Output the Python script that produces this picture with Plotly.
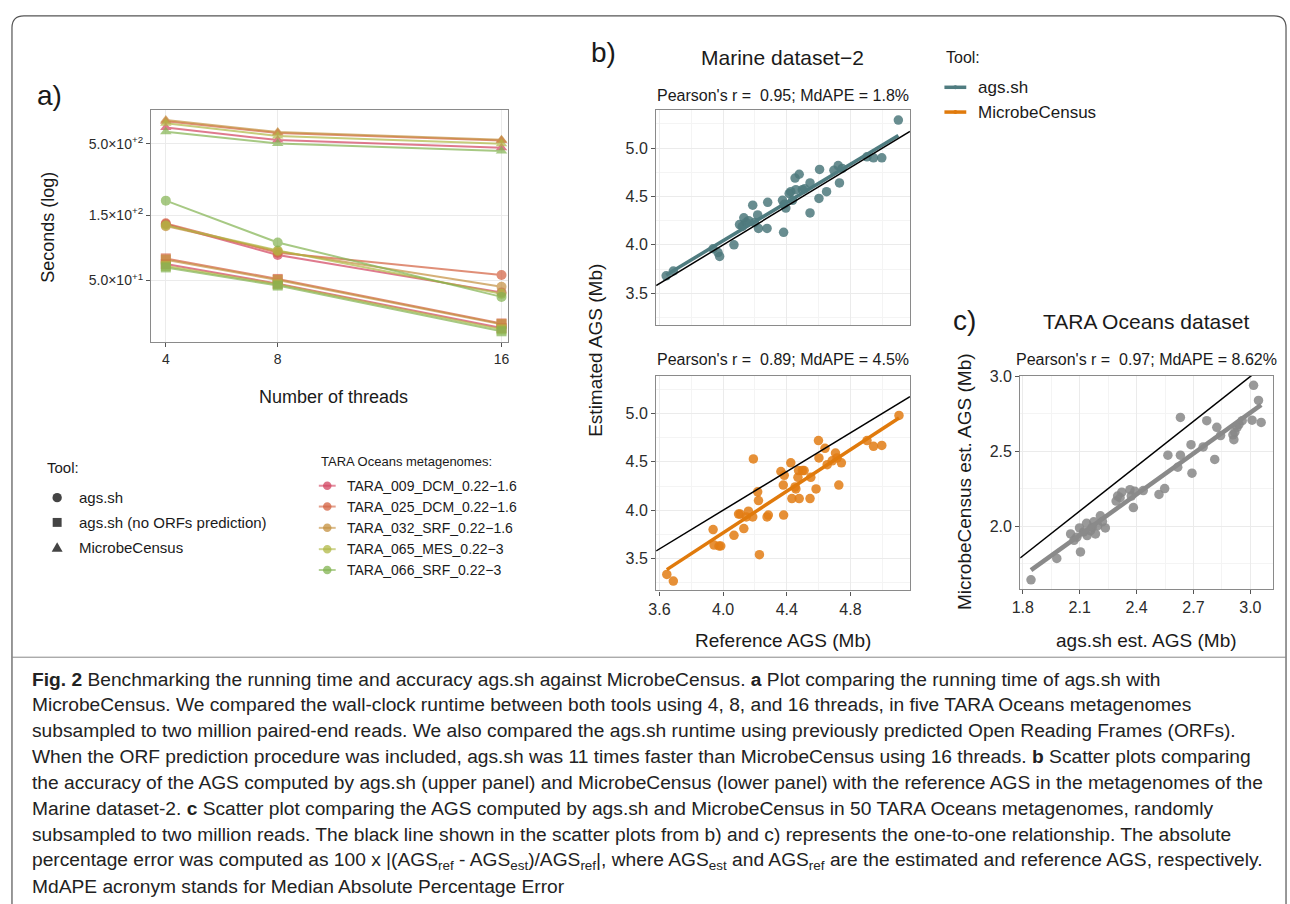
import numpy as np
import plotly.graph_objects as go

W, H = 1290, 904
FONT = "Liberation Sans"
CAP_FONT = "Liberation Sans"

# ---------------- Panel a data ----------------
threads = [4, 8, 16]
samples = ["TARA_009_DCM_0.22−1.6", "TARA_025_DCM_0.22−1.6", "TARA_032_SRF_0.22−1.6",
           "TARA_065_MES_0.22−3", "TARA_066_SRF_0.22−3"]
tools = ["ags.sh", "ags.sh (no ORFs prediction)", "MicrobeCensus"]
secs_ags = [[129, 77, 41], [131, 80, 55], [125, 82, 45], [127, 83, 40], [192, 95, 38]]
secs_noorf = [[66, 47.5, 22.5], [72.6, 51.4, 24.3], [71, 50.5, 24], [64, 47, 22], [62.4, 46, 21.3]]
secs_mc = [[656, 532, 468], [730, 600, 528], [745, 610, 535], [705, 570, 500], [611, 502, 443]]
a_ytickvals = [50, 150, 500]
a_yticktext = ["5.0×10<sup>+1</sup>", "1.5×10<sup>+2</sup>", "5.0×10<sup>+2</sup>"]

# ---------------- Panel b data (Marine dataset-2) ----------------
ref_top = [3.642, 3.687, 3.937, 3.968, 3.978, 4.068, 4.103, 4.130, 4.145, 4.186, 4.197, 4.217,
           4.222, 4.276, 4.280, 4.373, 4.380, 4.394, 4.415, 4.436, 4.452, 4.478, 4.457, 4.498,
           4.546, 4.546, 4.602, 4.606, 4.650, 4.696, 4.723, 4.731, 4.748, 4.904, 4.945, 4.997,
           5.101, 4.384, 4.425, 4.512, 4.120, 4.160]
est_ags = [3.68, 3.73, 3.96, 3.92, 3.88, 4.00, 4.21, 4.28, 4.23, 4.41, 4.23, 4.31,
           4.17, 4.17, 4.44, 4.46, 4.13, 4.38, 4.53, 4.46, 4.69, 4.73, 4.57, 4.57,
           4.64, 4.33, 4.48, 4.78, 4.55, 4.77, 4.82, 4.64, 4.79, 4.91, 4.90, 4.90,
           5.29, 4.42, 4.55, 4.58, 4.19, 4.25]
ref_bot = [3.646, 3.687, 3.937, 3.943, 3.974, 3.985, 4.068, 4.097, 4.107, 4.130, 4.145, 4.159,
           4.186, 4.190, 4.217, 4.222, 4.228, 4.276, 4.284, 4.363, 4.384, 4.378, 4.380, 4.425,
           4.432, 4.452, 4.457, 4.474, 4.470, 4.478, 4.498, 4.509, 4.546, 4.551, 4.584, 4.599,
           4.602, 4.640, 4.654, 4.706, 4.716, 4.727, 4.743, 4.904, 4.945, 4.997, 5.105, 4.685]
est_mc = [3.336, 3.268, 3.80, 3.64, 3.63, 3.63, 3.74, 3.96, 3.96, 3.81, 3.93, 3.99,
          3.93, 4.53, 4.19, 4.10, 3.54, 3.93, 3.95, 4.40, 4.36, 4.26, 3.95, 4.49,
          4.12, 4.24, 4.22, 4.41, 4.34, 4.12, 4.41, 4.41, 4.12, 4.34, 4.22, 4.72,
          4.54, 4.64, 4.47, 4.59, 4.54, 4.26, 4.49, 4.72, 4.66, 4.67, 4.98, 4.51]
b_ticks = [3.5, 4.0, 4.5, 5.0]
b_xticks = [3.6, 4.0, 4.4, 4.8]

# ---------------- Panel c data (TARA Oceans) ----------------
ags_c = [1.843, 1.979, 2.052, 2.070, 2.099, 2.104, 2.139, 2.157, 2.174, 2.183, 2.195, 2.209,
         2.235, 2.292, 2.313, 2.322, 2.365, 2.383, 2.391, 2.435, 2.518, 2.548, 2.565, 2.617,
         2.631, 2.631, 2.687, 2.692, 2.751, 2.770, 2.812, 2.823, 2.843, 2.908, 2.913, 2.930,
         2.957, 3.009, 3.017, 3.043, 3.057, 2.918, 2.136, 2.165, 2.300, 2.372, 2.120, 2.220,
         2.085, 2.940]
mc_c = [1.640, 1.783, 1.947, 1.904, 1.987, 1.827, 1.936, 1.969, 2.028, 1.947, 2.002, 2.068,
        1.987, 2.167, 2.189, 2.226, 2.243, 2.123, 2.232, 2.237, 2.211, 2.250, 2.474, 2.393,
        2.474, 2.726, 2.544, 2.353, 2.529, 2.704, 2.445, 2.660, 2.605, 2.610, 2.577, 2.660,
        2.704, 2.708, 2.941, 2.840, 2.693, 2.627, 2.018, 1.990, 2.200, 2.200, 1.960, 2.030,
        1.925, 2.680]
c_xticks = [1.8, 2.1, 2.4, 2.7, 3.0]
c_yticks = [2.0, 2.5, 3.0]

# axis ranges
A_X = [3.47, 16.25]
A_Y = [1.25, 2.945]
B_X = [3.579, 5.174]
B_Y = [3.17, 5.39]
C_X = [1.786, 3.12]
C_Y = [1.58, 3.005]


def px(x):
    return x / W


def py(y):
    return 1 - y / H


fig = go.Figure()

# ---------- panel a traces ----------
sample_colors = ["#D2435F", "#D3603F", "#C4903F", "#B0B845", "#82B350"]
for vals, sym in [(secs_ags, "circle"), (secs_noorf, "square"), (secs_mc, "triangle-up")]:
    for s, c, v in zip(samples, sample_colors, vals):
        fig.add_trace(go.Scatter(
            x=threads, y=v, mode="lines+markers", xaxis="x", yaxis="y", name=s,
            line=dict(color=c, width=2), opacity=0.7,
            marker=dict(symbol=sym, size=10, color=c), showlegend=False))

# ---------- panel b traces ----------
TEAL = "rgba(78,121,124,0.85)"
ORANGE = "rgba(226,125,20,0.85)"


def fit(xv, yv):
    k, b = np.polyfit(xv, yv, 1)
    xs = np.array([min(xv), max(xv)])
    return xs, k * xs + b


fig.add_trace(go.Scatter(x=ref_top, y=est_ags, mode="markers", xaxis="x2", yaxis="y2",
                         marker=dict(size=9.5, color=TEAL), showlegend=False))
fx, fy = fit(ref_top, est_ags)
fig.add_trace(go.Scatter(x=fx, y=fy, mode="lines", xaxis="x2", yaxis="y2",
                         line=dict(color="#4F7C80", width=3.5), showlegend=False))
fig.add_trace(go.Scatter(x=B_X, y=B_X, mode="lines", xaxis="x2", yaxis="y2",
                         line=dict(color="black", width=1.5), showlegend=False))

fig.add_trace(go.Scatter(x=ref_bot, y=est_mc, mode="markers", xaxis="x3", yaxis="y3",
                         marker=dict(size=9.5, color=ORANGE), showlegend=False))
fx, fy = fit(ref_bot, est_mc)
fig.add_trace(go.Scatter(x=fx, y=fy, mode="lines", xaxis="x3", yaxis="y3",
                         line=dict(color="#E07A0C", width=3.5), showlegend=False))
fig.add_trace(go.Scatter(x=B_X, y=B_X, mode="lines", xaxis="x3", yaxis="y3",
                         line=dict(color="black", width=1.5), showlegend=False))

# ---------- panel c traces ----------
fig.add_trace(go.Scatter(x=ags_c, y=mc_c, mode="markers", xaxis="x4", yaxis="y4",
                         marker=dict(size=9.5, color="rgba(135,135,135,0.85)"), showlegend=False))
fx, fy = fit(ags_c, mc_c)
fig.add_trace(go.Scatter(x=fx, y=fy, mode="lines", xaxis="x4", yaxis="y4",
                         line=dict(color="#8A8A8A", width=4.5), showlegend=False))
fig.add_trace(go.Scatter(x=C_X, y=C_X, mode="lines", xaxis="x4", yaxis="y4",
                         line=dict(color="black", width=1.5), showlegend=False))

# ---------- axes ----------
common = dict(showline=True, mirror=True, linecolor="#8a8a8a", linewidth=1.2,
              showgrid=True, gridcolor="#EBEBEB", gridwidth=1.2, zeroline=False,
              ticks="outside", ticklen=4, tickwidth=1.2, tickcolor="#555",
              tickfont=dict(family=FONT, size=16, color="#2b2b2b"))
minor_style = dict(showgrid=True, gridcolor="#F4F4F4", gridwidth=0.8)

a_tick = dict(common, tickfont=dict(family=FONT, size=14, color="#2b2b2b"))
fig.update_layout(
    xaxis=dict(a_tick, domain=[px(144), px(504)], range=A_X, tickmode="array",
               tickvals=threads, ticktext=[str(t) for t in threads], anchor="y"),
    yaxis=dict(a_tick, domain=[py(337), py(103)], type="log", range=A_Y, tickmode="array",
               tickvals=a_ytickvals, ticktext=a_yticktext, anchor="x"),
    xaxis2=dict(common, domain=[px(652.7), px(908.3)], range=B_X, tickmode="array",
                tickvals=b_xticks, showticklabels=False, ticks="", anchor="y2",
                minor=dict(minor_style, tickmode="array", tickvals=[3.8, 4.2, 4.6, 5.0])),
    yaxis2=dict(common, domain=[py(320), py(103.3)], range=B_Y, tickmode="array",
                tickvals=b_ticks, ticktext=[f"{v:.1f}" for v in b_ticks], anchor="x2",
                minor=dict(minor_style, tickmode="array", tickvals=[3.25, 3.75, 4.25, 4.75, 5.25])),
    xaxis3=dict(common, domain=[px(652.7), px(908.3)], range=B_X, tickmode="array",
                tickvals=b_xticks, ticktext=[f"{v:.1f}" for v in b_xticks], anchor="y3",
                minor=dict(minor_style, tickmode="array", tickvals=[3.8, 4.2, 4.6, 5.0])),
    yaxis3=dict(common, domain=[py(587.7), py(371)], range=B_Y, tickmode="array",
                tickvals=b_ticks, ticktext=[f"{v:.1f}" for v in b_ticks], anchor="x3",
                minor=dict(minor_style, tickmode="array", tickvals=[3.25, 3.75, 4.25, 4.75, 5.25])),
    xaxis4=dict(common, domain=[px(1019.3), px(1274)], range=C_X, tickmode="array",
                tickvals=c_xticks, ticktext=[f"{v:.1f}" for v in c_xticks], anchor="y4",
                minor=dict(minor_style, tickmode="array", tickvals=[1.95, 2.25, 2.55, 2.85])),
    yaxis4=dict(common, domain=[py(586), py(371)], range=C_Y, tickmode="array",
                tickvals=c_yticks, ticktext=[f"{v:.1f}" for v in c_yticks], anchor="x4",
                minor=dict(minor_style, tickmode="array", tickvals=[1.75, 2.25, 2.75])),
)

# ---------- annotations ----------
ann = []


def text(x, y, s, size, xanchor="center", yanchor="middle", angle=0, color="#1a1a1a", family=FONT):
    ann.append(dict(x=px(x), y=py(y), xref="paper", yref="paper", text=s, showarrow=False,
                    xanchor=xanchor, yanchor=yanchor, textangle=angle,
                    font=dict(family=family, size=size, color=color)))


# panel labels
text(42, 88, "a)", 28)
text(600, 45, "b)", 28)
text(963, 315, "c)", 28)

# panel a titles
text(328, 392, "Number of threads", 18)
text(40, 221, "Seconds (log)", 18, angle=-90)

# panel b titles
text(780, 50, "Marine dataset−2", 21)
text(780, 88, "Pearson's r =  0.95; MdAPE = 1.8%", 16)
text(780, 355, "Pearson's r =  0.89; MdAPE = 4.5%", 16)
text(592, 345, "Estimated AGS (Mb)", 19, angle=-90)
text(780, 638, "Reference AGS (Mb)", 19)

# panel c titles
text(1146, 316, "TARA Oceans dataset", 21)
text(1147, 355, "Pearson's r =  0.97; MdAPE = 8.62%", 16)
text(963, 478, "MicrobeCensus est. AGS (Mb)", 19, angle=-90)
text(1146, 638, "ags.sh est. AGS (Mb)", 19)

# panel a legends
text(37, 464, "Tool:", 15, xanchor="left")
tool_legend_y = [494, 519, 544]
for t, yy in zip(tools, tool_legend_y):
    text(69, yy, t, 15, xanchor="left")
text(313, 458, "TARA Oceans metagenomes:", 13, xanchor="left")
tara_legend_y = [482, 503, 524.5, 546, 567]
for s, yy in zip(samples, tara_legend_y):
    text(339, yy, s, 14, xanchor="left")

# panel b legend
text(943, 50, "Tool:", 16, xanchor="left")
text(975, 80, "ags.sh", 17, xanchor="left")
text(975, 105, "MicrobeCensus", 17, xanchor="left")

# caption
caption = [
    "<b>Fig. 2</b> Benchmarking the running time and accuracy ags.sh against MicrobeCensus. <b>a</b> Plot comparing the running time of ags.sh with",
    "MicrobeCensus. We compared the wall-clock runtime between both tools using 4, 8, and 16 threads, in five TARA Oceans metagenomes",
    "subsampled to two million paired-end reads. We also compared the ags.sh runtime using previously predicted Open Reading Frames (ORFs).",
    "When the ORF prediction procedure was included, ags.sh was 11 times faster than MicrobeCensus using 16 threads. <b>b</b> Scatter plots comparing",
    "the accuracy of the AGS computed by ags.sh (upper panel) and MicrobeCensus (lower panel) with the reference AGS in the metagenomes of the",
    "Marine dataset-2. <b>c</b> Scatter plot comparing the AGS computed by ags.sh and MicrobeCensus in 50 TARA Oceans metagenomes, randomly",
    "subsampled to two million reads. The black line shown in the scatter plots from b) and c) represents the one-to-one relationship. The absolute",
    "percentage error was computed as 100 x |(AGS<sub>ref</sub> - AGS<sub>est</sub>)/AGS<sub>ref</sub>|, where AGS<sub>est</sub> and AGS<sub>ref</sub> are the estimated and reference AGS, respectively.",
    "MdAPE acronym stands for Median Absolute Percentage Error",
]
for i, line in enumerate(caption):
    text(22, 677 + 26.2 * i, line, 19.2, xanchor="left", color="#222", family=CAP_FONT)

# ---------- shapes (frame, legend keys) ----------
shapes = []
r = 12
shapes.append(dict(type="path", xref="paper", yref="paper",
                   path=f"M {px(4)},{py(910)} L {px(4)},{py(8 + r)} Q {px(4)},{py(8)} {px(4 + r)},{py(8)} "
                        f"L {px(1287 - r)},{py(8)} Q {px(1287)},{py(8)} {px(1287)},{py(8 + r)} L {px(1287)},{py(910)}",
                   line=dict(color="#555", width=1.2)))
shapes.append(dict(type="line", xref="paper", yref="paper", x0=px(4), x1=px(1287), y0=py(655), y1=py(655),
                   line=dict(color="#888", width=1)))

cx, rr = 49.5, 4.7
shapes.append(dict(type="circle", xref="paper", yref="paper", x0=px(cx - rr), x1=px(cx + rr),
                   y0=py(494 + rr), y1=py(494 - rr), fillcolor="#444", line=dict(width=0)))
shapes.append(dict(type="rect", xref="paper", yref="paper", x0=px(cx - 4.5), x1=px(cx + 4.5),
                   y0=py(519 + 4.5), y1=py(519 - 4.5), fillcolor="#444", line=dict(width=0)))
shapes.append(dict(type="path", xref="paper", yref="paper",
                   path=f"M {px(cx - 5.5)},{py(548.5)} L {px(cx + 5.5)},{py(548.5)} L {px(cx)},{py(539)} Z",
                   fillcolor="#444", line=dict(width=0)))
for c, yy in zip(sample_colors, tara_legend_y):
    shapes.append(dict(type="line", xref="paper", yref="paper", x0=px(313), x1=px(330), y0=py(yy), y1=py(yy),
                       line=dict(color=c, width=2), opacity=0.6))
    shapes.append(dict(type="circle", xref="paper", yref="paper", x0=px(321.5 - 4.3), x1=px(321.5 + 4.3),
                       y0=py(yy + 4.3), y1=py(yy - 4.3), fillcolor=c, line=dict(width=0), opacity=0.75))
for c, yy in [("#4F7C80", 80), ("#E07A0C", 105)]:
    shapes.append(dict(type="line", xref="paper", yref="paper", x0=px(943), x1=px(965), y0=py(yy), y1=py(yy),
                       line=dict(color=c, width=3.5)))
    shapes.append(dict(type="circle", xref="paper", yref="paper", x0=px(954 - 2), x1=px(954 + 2),
                       y0=py(yy + 2), y1=py(yy - 2), fillcolor=c, line=dict(width=0)))

fig.update_layout(
    width=W, height=H, margin=dict(l=0, r=0, t=0, b=0),
    paper_bgcolor="white", plot_bgcolor="white",
    showlegend=False, annotations=ann, shapes=shapes,
    font=dict(family=FONT),
)

fig.write_html(
    "out.html",
    config={"displayModeBar": False},
    post_script=(
        "document.documentElement.style.margin='0';document.documentElement.style.padding='0';"
        "document.documentElement.style.overflow='hidden';"
        "document.body.style.margin='0';document.body.style.padding='0';"
        "var gd=document.getElementById('{plot_id}');"
        "gd.style.position='fixed';gd.style.left='0px';gd.style.top='0px';"
    ),
)
